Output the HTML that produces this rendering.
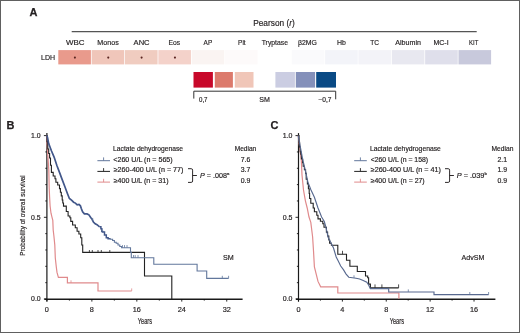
<!DOCTYPE html>
<html><head><meta charset="utf-8"><style>
html,body{margin:0;padding:0;background:#fff;}
body{width:520px;height:333px;overflow:hidden;position:relative;}
.fr{position:absolute;left:0;top:0;width:518px;height:331px;border:1px solid #606060;}
svg{position:absolute;left:0;top:0;font-family:"Liberation Sans", sans-serif;will-change:transform;}
</style></head><body>
<svg width="520" height="333" viewBox="0 0 520 333">
<text x="29.4" y="16.1" font-size="11" text-anchor="start" font-weight="bold" fill="#231f20" stroke="#231f20" stroke-width="0.25">A</text>
<text x="253.20" y="26.4" font-size="8.6" font-weight="normal" fill="#231f20" stroke="#231f20" stroke-width="0.18" textLength="41.60" lengthAdjust="spacingAndGlyphs">Pearson (<tspan font-style="italic">r</tspan>)</text>
<line x1="71.7" y1="31.7" x2="476.7" y2="31.7" stroke="#555" stroke-width="1.3"/>
<rect x="58.30" y="50.1" width="32.6" height="14.3" fill="#e99a8c"/>
<text x="66.00" y="45.4" font-size="7.8" font-weight="normal" fill="#231f20" stroke="#231f20" stroke-width="0.18" textLength="18.60" lengthAdjust="spacingAndGlyphs">WBC</text>
<circle cx="74.90" cy="57.6" r="1.05" fill="#5a2520"/>
<rect x="91.65" y="50.1" width="32.6" height="14.3" fill="#f0c6ba"/>
<text x="97.30" y="45.4" font-size="7.8" font-weight="normal" fill="#231f20" stroke="#231f20" stroke-width="0.18" textLength="21.40" lengthAdjust="spacingAndGlyphs">Monos</text>
<circle cx="108.25" cy="57.6" r="1.05" fill="#5a2520"/>
<rect x="125.00" y="50.1" width="32.6" height="14.3" fill="#f0ccc0"/>
<text x="133.60" y="45.4" font-size="7.8" font-weight="normal" fill="#231f20" stroke="#231f20" stroke-width="0.18" textLength="16.00" lengthAdjust="spacingAndGlyphs">ANC</text>
<circle cx="141.60" cy="57.6" r="1.05" fill="#5a2520"/>
<rect x="158.35" y="50.1" width="32.6" height="14.3" fill="#f4d2ca"/>
<text x="168.60" y="45.4" font-size="7.8" font-weight="normal" fill="#231f20" stroke="#231f20" stroke-width="0.18" textLength="11.60" lengthAdjust="spacingAndGlyphs">Eos</text>
<circle cx="174.95" cy="57.6" r="1.05" fill="#5a2520"/>
<rect x="191.70" y="50.1" width="32.6" height="14.3" fill="#faf4f2"/>
<text x="203.60" y="45.4" font-size="7.8" font-weight="normal" fill="#231f20" stroke="#231f20" stroke-width="0.18" textLength="8.60" lengthAdjust="spacingAndGlyphs">AP</text>
<rect x="225.05" y="50.1" width="32.6" height="14.3" fill="#fdfafa"/>
<text x="238.10" y="45.4" font-size="7.8" font-weight="normal" fill="#231f20" stroke="#231f20" stroke-width="0.18" textLength="7.50" lengthAdjust="spacingAndGlyphs">Plt</text>
<rect x="258.40" y="50.1" width="32.6" height="14.3" fill="#ffffff"/>
<text x="261.70" y="45.4" font-size="7.8" font-weight="normal" fill="#231f20" stroke="#231f20" stroke-width="0.18" textLength="26.30" lengthAdjust="spacingAndGlyphs">Tryptase</text>
<rect x="291.75" y="50.1" width="32.6" height="14.3" fill="#fafafc"/>
<text x="298.00" y="45.4" font-size="7.8" font-weight="normal" fill="#231f20" stroke="#231f20" stroke-width="0.18" textLength="18.90" lengthAdjust="spacingAndGlyphs">&#946;2MG</text>
<rect x="325.10" y="50.1" width="32.6" height="14.3" fill="#f3f4f9"/>
<text x="337.00" y="45.4" font-size="7.8" font-weight="normal" fill="#231f20" stroke="#231f20" stroke-width="0.18" textLength="8.90" lengthAdjust="spacingAndGlyphs">Hb</text>
<rect x="358.45" y="50.1" width="32.6" height="14.3" fill="#f3f3f8"/>
<text x="370.30" y="45.4" font-size="7.8" font-weight="normal" fill="#231f20" stroke="#231f20" stroke-width="0.18" textLength="8.80" lengthAdjust="spacingAndGlyphs">TC</text>
<rect x="391.80" y="50.1" width="32.6" height="14.3" fill="#e8e8f0"/>
<text x="395.30" y="45.4" font-size="7.8" font-weight="normal" fill="#231f20" stroke="#231f20" stroke-width="0.18" textLength="25.70" lengthAdjust="spacingAndGlyphs">Albumin</text>
<rect x="425.15" y="50.1" width="32.6" height="14.3" fill="#dfdfeb"/>
<text x="433.40" y="45.4" font-size="7.8" font-weight="normal" fill="#231f20" stroke="#231f20" stroke-width="0.18" textLength="15.20" lengthAdjust="spacingAndGlyphs">MC-I</text>
<rect x="458.50" y="50.1" width="32.6" height="14.3" fill="#c8c9dc"/>
<text x="469.10" y="45.4" font-size="7.8" font-weight="normal" fill="#231f20" stroke="#231f20" stroke-width="0.18" textLength="9.20" lengthAdjust="spacingAndGlyphs">KIT</text>
<text x="41.10" y="60.1" font-size="7.9" font-weight="normal" fill="#231f20" stroke="#231f20" stroke-width="0.18" textLength="14.00" lengthAdjust="spacingAndGlyphs">LDH</text>
<rect x="193.5" y="72" width="19.4" height="15.6" fill="#c8082a"/>
<rect x="214.8" y="72" width="18.1" height="15.6" fill="#dc7a6c"/>
<rect x="234.8" y="72" width="18.7" height="15.6" fill="#f0c6b8"/>
<rect x="275.4" y="72" width="19.5" height="15.6" fill="#cbcde2"/>
<rect x="295.8" y="72" width="19.3" height="15.6" fill="#8490ba"/>
<rect x="316.2" y="72" width="19.8" height="15.6" fill="#0a4a85"/>
<path d="M193.8,98.6 L193.8,91.2 L335.7,91.2 L335.7,99.3" fill="none" stroke="#333" stroke-width="1"/>
<text x="199.00" y="101.6" font-size="6.8" font-weight="normal" fill="#231f20" stroke="#231f20" stroke-width="0.18" textLength="8.50" lengthAdjust="spacingAndGlyphs">0,7</text>
<text x="259.20" y="102.2" font-size="7.2" font-weight="normal" fill="#231f20" stroke="#231f20" stroke-width="0.18" textLength="10.60" lengthAdjust="spacingAndGlyphs">SM</text>
<text x="318.40" y="101.6" font-size="6.8" font-weight="normal" fill="#231f20" stroke="#231f20" stroke-width="0.18" textLength="13.00" lengthAdjust="spacingAndGlyphs">&#8722;0,7</text>
<text x="6.6" y="128.6" font-size="11" text-anchor="start" font-weight="bold" fill="#231f20" stroke="#231f20" stroke-width="0.25">B</text>
<line x1="46.9" y1="133.1" x2="46.9" y2="301.5" stroke="#1a1a1a" stroke-width="1.2"/>
<line x1="44.4" y1="299.3" x2="242.6" y2="299.3" stroke="#1a1a1a" stroke-width="1.4"/>
<line x1="43.9" y1="299.00" x2="46.9" y2="299.00" stroke="#111" stroke-width="0.9"/>
<line x1="45.3" y1="282.66" x2="46.9" y2="282.66" stroke="#111" stroke-width="0.9"/>
<line x1="45.3" y1="266.32" x2="46.9" y2="266.32" stroke="#111" stroke-width="0.9"/>
<line x1="45.3" y1="249.98" x2="46.9" y2="249.98" stroke="#111" stroke-width="0.9"/>
<line x1="45.3" y1="233.64" x2="46.9" y2="233.64" stroke="#111" stroke-width="0.9"/>
<line x1="43.9" y1="217.30" x2="46.9" y2="217.30" stroke="#111" stroke-width="0.9"/>
<line x1="45.3" y1="200.96" x2="46.9" y2="200.96" stroke="#111" stroke-width="0.9"/>
<line x1="45.3" y1="184.62" x2="46.9" y2="184.62" stroke="#111" stroke-width="0.9"/>
<line x1="45.3" y1="168.28" x2="46.9" y2="168.28" stroke="#111" stroke-width="0.9"/>
<line x1="45.3" y1="151.94" x2="46.9" y2="151.94" stroke="#111" stroke-width="0.9"/>
<line x1="43.9" y1="135.60" x2="46.9" y2="135.60" stroke="#111" stroke-width="0.9"/>
<text x="31.10" y="301.40" font-size="6.8" font-weight="normal" fill="#231f20" stroke="#231f20" stroke-width="0.18" textLength="9.60" lengthAdjust="spacingAndGlyphs">0.0</text>
<text x="31.10" y="219.70" font-size="6.8" font-weight="normal" fill="#231f20" stroke="#231f20" stroke-width="0.18" textLength="9.60" lengthAdjust="spacingAndGlyphs">0.5</text>
<text x="31.10" y="138.00" font-size="6.8" font-weight="normal" fill="#231f20" stroke="#231f20" stroke-width="0.18" textLength="9.60" lengthAdjust="spacingAndGlyphs">1.0</text>
<line x1="46.90" y1="299.0" x2="46.90" y2="301.6" stroke="#111" stroke-width="0.9"/>
<line x1="69.38" y1="299.0" x2="69.38" y2="300.6" stroke="#111" stroke-width="0.9"/>
<line x1="91.86" y1="299.0" x2="91.86" y2="301.6" stroke="#111" stroke-width="0.9"/>
<line x1="114.34" y1="299.0" x2="114.34" y2="300.6" stroke="#111" stroke-width="0.9"/>
<line x1="136.82" y1="299.0" x2="136.82" y2="301.6" stroke="#111" stroke-width="0.9"/>
<line x1="159.30" y1="299.0" x2="159.30" y2="300.6" stroke="#111" stroke-width="0.9"/>
<line x1="181.78" y1="299.0" x2="181.78" y2="301.6" stroke="#111" stroke-width="0.9"/>
<line x1="204.26" y1="299.0" x2="204.26" y2="300.6" stroke="#111" stroke-width="0.9"/>
<line x1="226.74" y1="299.0" x2="226.74" y2="301.6" stroke="#111" stroke-width="0.9"/>
<text x="46.90" y="311.6" font-size="7.3" text-anchor="middle" font-weight="normal" fill="#231f20" stroke="#231f20" stroke-width="0.18">0</text>
<text x="91.86" y="311.6" font-size="7.3" text-anchor="middle" font-weight="normal" fill="#231f20" stroke="#231f20" stroke-width="0.18">8</text>
<text x="136.82" y="311.6" font-size="7.3" text-anchor="middle" font-weight="normal" fill="#231f20" stroke="#231f20" stroke-width="0.18">16</text>
<text x="181.78" y="311.6" font-size="7.3" text-anchor="middle" font-weight="normal" fill="#231f20" stroke="#231f20" stroke-width="0.18">24</text>
<text x="226.74" y="311.6" font-size="7.3" text-anchor="middle" font-weight="normal" fill="#231f20" stroke="#231f20" stroke-width="0.18">32</text>
<text transform="translate(25.2,215.5) rotate(-90)" font-size="8.0" text-anchor="middle" fill="#231f20" stroke="#231f20" stroke-width="0.18" textLength="80.5" lengthAdjust="spacingAndGlyphs">Probability of overall survival</text>
<text x="137.80" y="323.8" font-size="8.4" font-weight="normal" fill="#231f20" stroke="#231f20" stroke-width="0.18" textLength="14.20" lengthAdjust="spacingAndGlyphs">Years</text>
<text x="223.00" y="260.2" font-size="7.4" font-weight="normal" fill="#231f20" stroke="#231f20" stroke-width="0.18" textLength="10.70" lengthAdjust="spacingAndGlyphs">SM</text>
<path d="M46.5,135.6 L47.5,150 L48.8,170 L49.2,188 L49.6,197 L50.1,206 L51,213.2 L51.9,216.8 L52.8,220.4 L53.2,230 L53.9,236 L54.8,245 L55.3,258 L56.3,267 L57,272.4 L58.4,277.3 L67.4,277.3 L67.4,282.9 L98,282.9 L98,291 L131.7,291" fill="none" stroke="#e08a8c" stroke-width="1.2" stroke-linejoin="miter"/>
<line x1="71" y1="282.9" x2="71" y2="280.29999999999995" stroke="#e08a8c" stroke-width="0.8"/>
<line x1="131.7" y1="291" x2="131.7" y2="288.4" stroke="#e08a8c" stroke-width="0.8"/>
<path d="M46.9,135.6 L47,135.6 L47,141.8 L47.8,141.8 L47.8,149 L48.7,149 L48.7,153.5 L49.6,153.5 L49.6,158 L50.5,158 L50.5,165.2 L51.4,165.2 L51.4,172.4 L53.2,172.4 L53.2,176 L55,176 L55,178.7 L55.9,178.7 L55.9,182.3 L57.7,182.3 L57.7,185 L59.5,185 L59.5,188.6 L60.4,188.6 L60.4,192.2 L61.3,192.2 L61.3,195.9 L62.2,195.9 L62.2,200 L62.8,200 L62.8,203 L63.5,203 L63.5,206.1 L66.3,206.1 L66.3,211.5 L68.1,211.5 L68.1,216 L69.9,216 L69.9,217.8 L70.8,217.8 L70.8,221.4 L72.6,221.4 L72.6,225 L75.3,225 L75.3,227.7 L77.1,227.7 L77.1,231.3 L78.9,231.3 L78.9,234 L80.7,234 L80.7,237.7 L81.8,237.7 L81.8,245 L82.7,245 L82.7,252.4 L144.5,252.4 L144.5,276 L171.8,276 L171.8,299.3" fill="none" stroke="#222222" stroke-width="1.1" stroke-linejoin="miter"/>
<line x1="89.4" y1="252.6" x2="89.4" y2="250.0" stroke="#222222" stroke-width="0.8"/>
<line x1="92.3" y1="252.6" x2="92.3" y2="250.0" stroke="#222222" stroke-width="0.8"/>
<line x1="98" y1="252.6" x2="98" y2="250.0" stroke="#222222" stroke-width="0.8"/>
<line x1="101.3" y1="252.6" x2="101.3" y2="250.0" stroke="#222222" stroke-width="0.8"/>
<line x1="109.8" y1="252.6" x2="109.8" y2="250.0" stroke="#222222" stroke-width="0.8"/>
<path d="M46.9,135.6 L47.5,137.5 L48.7,143.6 L51.4,150.8 L54.1,157.1 L56.8,165.2 L59.5,172.4 L62.2,179.6 L64.9,186.8 L67.6,194 L69.4,198.5 L71.8,200.4 L73.6,202.2 L75.4,203.1 L77.2,204.9 L79,204.5 L80.4,205.8 L81.3,208.5 L82.6,211.7 L84.4,213.9 L87.1,213.9 L88.9,214.8 L90.7,217.5 L92.1,219.3 L93.4,222 L95.2,223.8 L97,224.7 L99.6,226.8" fill="none" stroke="#42578a" stroke-width="1.7" stroke-linejoin="miter"/>
<path d="M99.6,226.8 L100.9,226.8 L100.9,228.8 L101.8,228.8 L101.8,231.5 L102.7,231.5 L102.7,232 L104.5,232 L104.5,235 L106.3,235 L106.3,237.8 L108.1,237.8 L108.1,238.7 L109.9,238.7 L109.9,239.3" fill="none" stroke="#42578a" stroke-width="1.5" stroke-linejoin="miter"/>
<path d="M109.9,239.3 L112.6,239.3 L112.6,240.5 L114.4,240.5 L114.4,242.3 L116.2,242.3 L116.2,243.2 L118,243.2 L118,245 L119.8,245 L119.8,246.5 L121.6,246.5 L121.6,247.7 L130.5,247.7 L130.5,252.3 L131.3,252.3 L131.3,257.7 L153.8,257.7 L153.8,264.2 L197.1,264.2 L197.1,271 L206.7,271 L206.7,278.4 L228.6,278.4" fill="none" stroke="#62779c" stroke-width="1.1" stroke-linejoin="miter"/>
<line x1="92.7" y1="220.5" x2="92.7" y2="217.9" stroke="#62779c" stroke-width="0.8"/>
<line x1="102" y1="231.5" x2="102" y2="228.9" stroke="#62779c" stroke-width="0.8"/>
<line x1="122.5" y1="247.7" x2="122.5" y2="245.1" stroke="#62779c" stroke-width="0.8"/>
<line x1="124.5" y1="247.7" x2="124.5" y2="245.1" stroke="#62779c" stroke-width="0.8"/>
<line x1="127" y1="247.7" x2="127" y2="245.1" stroke="#62779c" stroke-width="0.8"/>
<line x1="133.5" y1="257.7" x2="133.5" y2="255.1" stroke="#62779c" stroke-width="0.8"/>
<line x1="135.2" y1="257.7" x2="135.2" y2="255.1" stroke="#62779c" stroke-width="0.8"/>
<line x1="138" y1="257.7" x2="138" y2="255.1" stroke="#62779c" stroke-width="0.8"/>
<line x1="222.3" y1="278.4" x2="222.3" y2="275.79999999999995" stroke="#62779c" stroke-width="0.8"/>
<line x1="228.6" y1="278.4" x2="228.6" y2="275.79999999999995" stroke="#62779c" stroke-width="0.8"/>
<text x="113.10" y="151.0" font-size="6.9" font-weight="normal" fill="#231f20" stroke="#231f20" stroke-width="0.18" textLength="69.90" lengthAdjust="spacingAndGlyphs">Lactate dehydrogenase</text>
<text x="234.70" y="151.0" font-size="6.9" font-weight="normal" fill="#231f20" stroke="#231f20" stroke-width="0.18" textLength="21.50" lengthAdjust="spacingAndGlyphs">Median</text>
<line x1="97.4" y1="160.7" x2="110.0" y2="160.7" stroke="#62779c" stroke-width="1"/>
<line x1="103.60000000000001" y1="160.7" x2="103.60000000000001" y2="157.40" stroke="#62779c" stroke-width="0.9"/>
<text x="113.30" y="161.8" font-size="6.9" font-weight="normal" fill="#231f20" stroke="#231f20" stroke-width="0.18" textLength="59.40" lengthAdjust="spacingAndGlyphs">&lt;260 U/L (n = 565)</text>
<text x="245.5" y="161.8" font-size="6.9" text-anchor="middle" font-weight="normal" fill="#231f20" stroke="#231f20" stroke-width="0.18">7.6</text>
<line x1="97.4" y1="171.4" x2="110.0" y2="171.4" stroke="#222222" stroke-width="1"/>
<line x1="103.60000000000001" y1="171.4" x2="103.60000000000001" y2="168.10" stroke="#222222" stroke-width="0.9"/>
<text x="113.70" y="172.3" font-size="6.9" font-weight="normal" fill="#231f20" stroke="#231f20" stroke-width="0.18" textLength="69.70" lengthAdjust="spacingAndGlyphs">&#8805;260-400 U/L (n = 77)</text>
<text x="245.5" y="172.3" font-size="6.9" text-anchor="middle" font-weight="normal" fill="#231f20" stroke="#231f20" stroke-width="0.18">3.7</text>
<line x1="97.4" y1="182.1" x2="110.0" y2="182.1" stroke="#e08a8c" stroke-width="1"/>
<line x1="103.60000000000001" y1="182.1" x2="103.60000000000001" y2="178.80" stroke="#e08a8c" stroke-width="0.9"/>
<text x="113.70" y="182.8" font-size="6.9" font-weight="normal" fill="#231f20" stroke="#231f20" stroke-width="0.18" textLength="54.80" lengthAdjust="spacingAndGlyphs">&#8805;400 U/L (n = 31)</text>
<text x="245.5" y="182.8" font-size="6.9" text-anchor="middle" font-weight="normal" fill="#231f20" stroke="#231f20" stroke-width="0.18">0.9</text>
<path d="M188.0,168.7 L191.2,168.7 Q192.6,168.7 192.6,170.1 L192.6,181 Q192.6,182.4 191.2,182.4 L188.0,182.4 M192.6,175.5 L196.9,175.5" fill="none" stroke="#231f20" stroke-width="0.95"/>
<text x="200.10" y="178.0" font-size="6.9" font-weight="normal" fill="#231f20" stroke="#231f20" stroke-width="0.18" textLength="29.30" lengthAdjust="spacingAndGlyphs"><tspan font-style="italic">P</tspan> = .008<tspan font-size="4.2" dy="-2.6">a</tspan></text>
<text x="270.6" y="128.6" font-size="11" text-anchor="start" font-weight="bold" fill="#231f20" stroke="#231f20" stroke-width="0.25">C</text>
<line x1="298.5" y1="133.1" x2="298.5" y2="301.5" stroke="#1a1a1a" stroke-width="1.2"/>
<line x1="296.0" y1="299.3" x2="495.4" y2="299.3" stroke="#1a1a1a" stroke-width="1.4"/>
<line x1="295.5" y1="299.00" x2="298.5" y2="299.00" stroke="#111" stroke-width="0.9"/>
<line x1="296.9" y1="282.66" x2="298.5" y2="282.66" stroke="#111" stroke-width="0.9"/>
<line x1="296.9" y1="266.32" x2="298.5" y2="266.32" stroke="#111" stroke-width="0.9"/>
<line x1="296.9" y1="249.98" x2="298.5" y2="249.98" stroke="#111" stroke-width="0.9"/>
<line x1="296.9" y1="233.64" x2="298.5" y2="233.64" stroke="#111" stroke-width="0.9"/>
<line x1="295.5" y1="217.30" x2="298.5" y2="217.30" stroke="#111" stroke-width="0.9"/>
<line x1="296.9" y1="200.96" x2="298.5" y2="200.96" stroke="#111" stroke-width="0.9"/>
<line x1="296.9" y1="184.62" x2="298.5" y2="184.62" stroke="#111" stroke-width="0.9"/>
<line x1="296.9" y1="168.28" x2="298.5" y2="168.28" stroke="#111" stroke-width="0.9"/>
<line x1="296.9" y1="151.94" x2="298.5" y2="151.94" stroke="#111" stroke-width="0.9"/>
<line x1="295.5" y1="135.60" x2="298.5" y2="135.60" stroke="#111" stroke-width="0.9"/>
<text x="282.80" y="301.40" font-size="6.8" font-weight="normal" fill="#231f20" stroke="#231f20" stroke-width="0.18" textLength="9.70" lengthAdjust="spacingAndGlyphs">0.0</text>
<text x="282.80" y="219.70" font-size="6.8" font-weight="normal" fill="#231f20" stroke="#231f20" stroke-width="0.18" textLength="9.70" lengthAdjust="spacingAndGlyphs">0.5</text>
<text x="282.80" y="138.00" font-size="6.8" font-weight="normal" fill="#231f20" stroke="#231f20" stroke-width="0.18" textLength="9.70" lengthAdjust="spacingAndGlyphs">1.0</text>
<line x1="298.50" y1="299.0" x2="298.50" y2="301.6" stroke="#111" stroke-width="0.9"/>
<line x1="320.44" y1="299.0" x2="320.44" y2="300.6" stroke="#111" stroke-width="0.9"/>
<line x1="342.38" y1="299.0" x2="342.38" y2="301.6" stroke="#111" stroke-width="0.9"/>
<line x1="364.32" y1="299.0" x2="364.32" y2="300.6" stroke="#111" stroke-width="0.9"/>
<line x1="386.26" y1="299.0" x2="386.26" y2="301.6" stroke="#111" stroke-width="0.9"/>
<line x1="408.20" y1="299.0" x2="408.20" y2="300.6" stroke="#111" stroke-width="0.9"/>
<line x1="430.14" y1="299.0" x2="430.14" y2="301.6" stroke="#111" stroke-width="0.9"/>
<line x1="452.08" y1="299.0" x2="452.08" y2="300.6" stroke="#111" stroke-width="0.9"/>
<line x1="474.02" y1="299.0" x2="474.02" y2="301.6" stroke="#111" stroke-width="0.9"/>
<text x="298.50" y="311.6" font-size="7.3" text-anchor="middle" font-weight="normal" fill="#231f20" stroke="#231f20" stroke-width="0.18">0</text>
<text x="342.38" y="311.6" font-size="7.3" text-anchor="middle" font-weight="normal" fill="#231f20" stroke="#231f20" stroke-width="0.18">4</text>
<text x="386.26" y="311.6" font-size="7.3" text-anchor="middle" font-weight="normal" fill="#231f20" stroke="#231f20" stroke-width="0.18">8</text>
<text x="430.14" y="311.6" font-size="7.3" text-anchor="middle" font-weight="normal" fill="#231f20" stroke="#231f20" stroke-width="0.18">12</text>
<text x="474.02" y="311.6" font-size="7.3" text-anchor="middle" font-weight="normal" fill="#231f20" stroke="#231f20" stroke-width="0.18">16</text>
<text x="389.70" y="323.8" font-size="8.4" font-weight="normal" fill="#231f20" stroke="#231f20" stroke-width="0.18" textLength="14.30" lengthAdjust="spacingAndGlyphs">Years</text>
<text x="461.50" y="260.1" font-size="7.4" font-weight="normal" fill="#231f20" stroke="#231f20" stroke-width="0.18" textLength="22.80" lengthAdjust="spacingAndGlyphs">AdvSM</text>
<path d="M298.2,135.6 L300,150 L301.3,160 L302,175 L303.5,190 L305.4,200.8 L307.2,208 L309,217 L310.8,222.4 L312.6,236.8 L313.5,250.8 L314.4,267 L316.2,274.2 L318,281.4 L320.7,286.8 L337.8,286.8 L337.8,293 L398.9,293 L398.9,298.8" fill="none" stroke="#e08a8c" stroke-width="1.2" stroke-linejoin="miter"/>
<path d="M298.5,135.6 L299,135.6 L299,142.2 L299.6,142.2 L299.6,147 L300.2,147 L300.2,151.8 L300.8,151.8 L300.8,154.2 L301.4,154.2 L301.4,159 L302.6,159 L302.6,162.6 L303.2,162.6 L303.2,166.2 L304.4,166.2 L304.4,169.8 L305.6,169.8 L305.6,173.4 L306.2,173.4 L306.2,179.2 L307.4,179.2 L307.4,184 L308.4,184 L308.4,188.8 L309.2,188.8 L309.2,193.5 L309.6,193.5 L309.6,198.5 L310.8,198.5 L310.8,203.3 L313.2,203.3 L313.2,208 L314.4,208 L314.4,211.7 L316.8,211.7 L316.8,215.3 L318,215.3 L318,218.9 L320.4,218.9 L320.4,221.3 L322.8,221.3 L322.8,223.7 L324,223.7 L324,227.3 L326.4,227.3 L326.4,232.1 L327.6,232.1 L327.6,236 L328.8,236 L328.8,240 L329.6,240 L329.6,243.2 L331.4,243.2 L331.4,245.3 L337.8,245.3 L337.8,254.3 L346.5,254.3 L346.5,260.3 L349.9,260.3 L349.9,266.3 L357.3,266.3 L357.3,271.5 L365.5,271.5 L365.5,276 L367.7,276 L367.7,277.8 L368.6,277.8 L368.6,284.1 L370.4,284.1 L370.4,287.9 L398.6,287.9" fill="none" stroke="#222222" stroke-width="1.1" stroke-linejoin="miter"/>
<line x1="342.5" y1="254.3" x2="342.5" y2="250.8" stroke="#222222" stroke-width="0.8"/>
<line x1="375" y1="287.9" x2="375" y2="284.4" stroke="#222222" stroke-width="0.8"/>
<line x1="381.9" y1="287.9" x2="381.9" y2="284.4" stroke="#222222" stroke-width="0.8"/>
<line x1="398.6" y1="287.9" x2="398.6" y2="284.4" stroke="#222222" stroke-width="0.8"/>
<path d="M298.2,135.6 L302.8,160 L305,169 L308,182.5 L311,190 L314.4,197.2 L318,208 L321.6,217 L324.3,221.5 L326.1,227.8 L328.1,237.2 L330.8,242.6 L333.5,248 L336.2,257 L338,260.6 L340.7,266 L343.4,269.6 L346.1,274.1 L348.8,277.2 L352.4,277.7 L356,278.3 L359.6,279 L363.2,280.5 L366.8,282.3 L368.6,285 L370.4,288.6 L388.7,288.6 L388.7,292 L434,292 L434,294.6 L488.6,294.6" fill="none" stroke="#58698f" stroke-width="1.15" stroke-linejoin="miter"/>
<line x1="354" y1="277.9" x2="354" y2="275.29999999999995" stroke="#62779c" stroke-width="0.8"/>
<line x1="408.3" y1="292" x2="408.3" y2="289.4" stroke="#62779c" stroke-width="0.8"/>
<line x1="469.8" y1="294.6" x2="469.8" y2="292.0" stroke="#62779c" stroke-width="0.8"/>
<line x1="488.6" y1="294.6" x2="488.6" y2="292.0" stroke="#62779c" stroke-width="0.8"/>
<text x="369.90" y="151.0" font-size="6.9" font-weight="normal" fill="#231f20" stroke="#231f20" stroke-width="0.18" textLength="71.00" lengthAdjust="spacingAndGlyphs">Lactate dehydrogenase</text>
<text x="491.50" y="151.0" font-size="6.9" font-weight="normal" fill="#231f20" stroke="#231f20" stroke-width="0.18" textLength="21.90" lengthAdjust="spacingAndGlyphs">Median</text>
<line x1="354.2" y1="160.7" x2="366.8" y2="160.7" stroke="#62779c" stroke-width="1"/>
<line x1="360.4" y1="160.7" x2="360.4" y2="157.40" stroke="#62779c" stroke-width="0.9"/>
<text x="370.70" y="161.8" font-size="6.9" font-weight="normal" fill="#231f20" stroke="#231f20" stroke-width="0.18" textLength="57.40" lengthAdjust="spacingAndGlyphs">&lt;260 U/L (n = 158)</text>
<text x="502.2" y="161.8" font-size="6.9" text-anchor="middle" font-weight="normal" fill="#231f20" stroke="#231f20" stroke-width="0.18">2.1</text>
<line x1="354.2" y1="171.4" x2="366.8" y2="171.4" stroke="#222222" stroke-width="1"/>
<line x1="360.4" y1="171.4" x2="360.4" y2="168.10" stroke="#222222" stroke-width="0.9"/>
<text x="370.70" y="172.3" font-size="6.9" font-weight="normal" fill="#231f20" stroke="#231f20" stroke-width="0.18" textLength="70.20" lengthAdjust="spacingAndGlyphs">&#8805;260-400 U/L (n = 41)</text>
<text x="502.2" y="172.3" font-size="6.9" text-anchor="middle" font-weight="normal" fill="#231f20" stroke="#231f20" stroke-width="0.18">1.9</text>
<line x1="354.2" y1="182.1" x2="366.8" y2="182.1" stroke="#e08a8c" stroke-width="1"/>
<line x1="360.4" y1="182.1" x2="360.4" y2="178.80" stroke="#e08a8c" stroke-width="0.9"/>
<text x="370.70" y="182.8" font-size="6.9" font-weight="normal" fill="#231f20" stroke="#231f20" stroke-width="0.18" textLength="54.00" lengthAdjust="spacingAndGlyphs">&#8805;400 U/L (n = 27)</text>
<text x="502.2" y="182.8" font-size="6.9" text-anchor="middle" font-weight="normal" fill="#231f20" stroke="#231f20" stroke-width="0.18">0.9</text>
<path d="M445.0,168.7 L448.2,168.7 Q449.6,168.7 449.6,170.1 L449.6,181 Q449.6,182.4 448.2,182.4 L445.0,182.4 M449.6,175.5 L453.9,175.5" fill="none" stroke="#231f20" stroke-width="0.95"/>
<text x="456.70" y="178.0" font-size="6.9" font-weight="normal" fill="#231f20" stroke="#231f20" stroke-width="0.18" textLength="30.20" lengthAdjust="spacingAndGlyphs"><tspan font-style="italic">P</tspan> = .039<tspan font-size="4.2" dy="-2.6">b</tspan></text>
</svg>
<div class="fr"></div>
</body></html>
